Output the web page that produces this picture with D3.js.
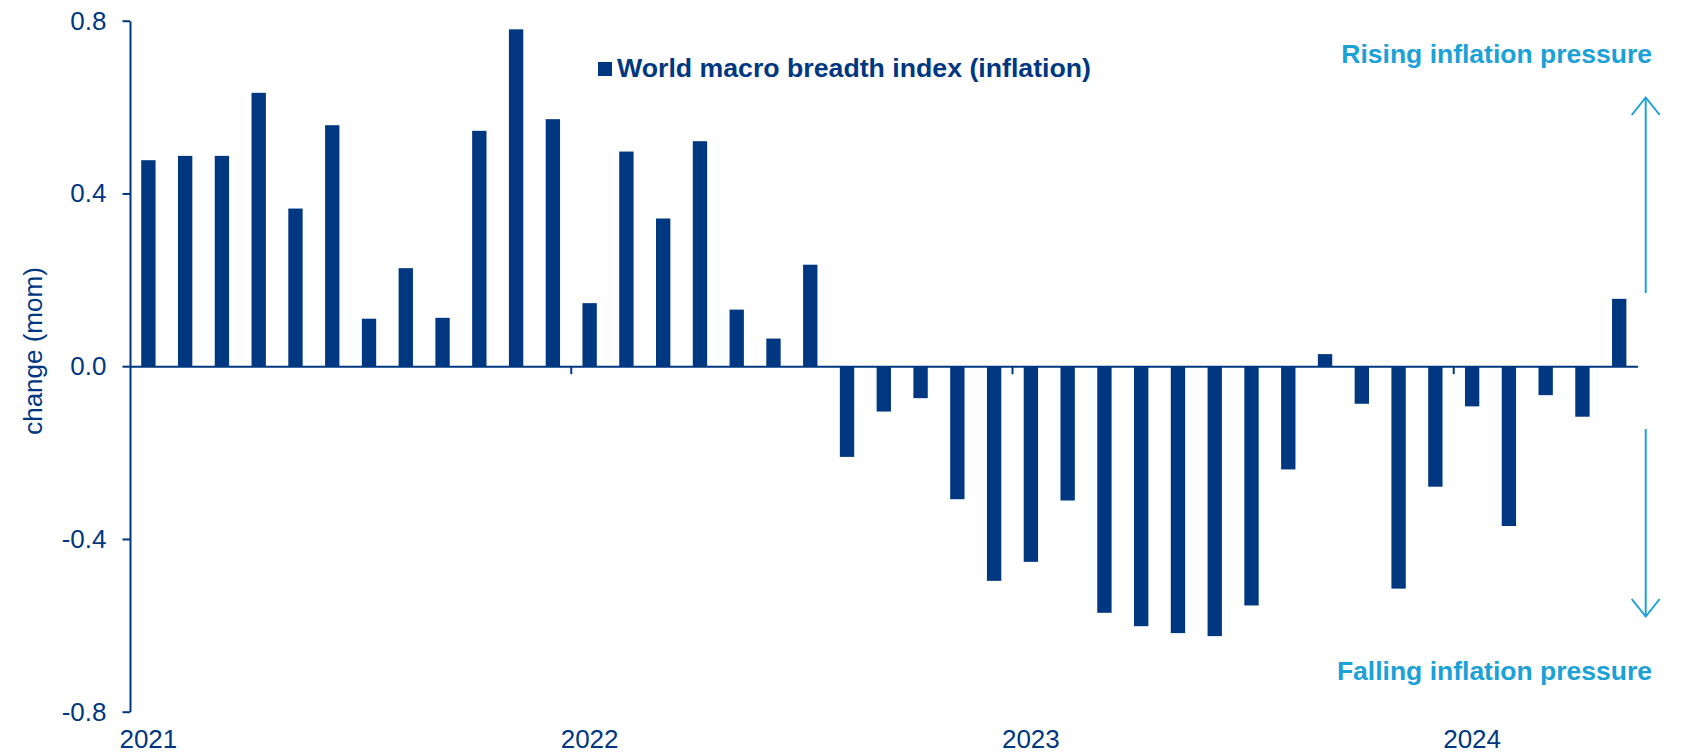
<!DOCTYPE html>
<html>
<head>
<meta charset="utf-8">
<script src="https://cdn.jsdelivr.net/npm/d3@7"></script>
<style>
  html, body { margin: 0; padding: 0; background: #ffffff; }
  svg { display: block; }
  text { font-family: "Liberation Sans", Arial, sans-serif; }
</style>
</head>
<body>
<svg id="chart" width="1681" height="754"></svg>
<script>
// Monthly observations, Jan 2021 – May 2024
const months = [
  "2021-01","2021-02","2021-03","2021-04","2021-05","2021-06","2021-07","2021-08","2021-09","2021-10","2021-11","2021-12",
  "2022-01","2022-02","2022-03","2022-04","2022-05","2022-06","2022-07","2022-08","2022-09","2022-10","2022-11","2022-12",
  "2023-01","2023-02","2023-03","2023-04","2023-05","2023-06","2023-07","2023-08","2023-09","2023-10","2023-11","2023-12",
  "2024-01","2024-02","2024-03","2024-04","2024-05"
];

// World macro breadth index (inflation), month-on-month change
const breadthChange = [
  0.477, 0.487, 0.487, 0.633, 0.365, 0.558, 0.110, 0.227, 0.112, 0.545, 0.780, 0.572,
  0.146, 0.497, 0.342, 0.521, 0.131, 0.064, 0.235, -0.210, -0.105, -0.074, -0.308, -0.497,
  -0.453, -0.311, -0.571, -0.602, -0.618, -0.625, -0.554, -0.239, 0.028, -0.087, -0.515, -0.279,
  -0.093, -0.370, -0.067, -0.117, 0.156
];

const yTicks = [-0.8, -0.4, 0.0, 0.4, 0.8];
const yearStarts = ["2021-01", "2022-01", "2023-01", "2024-01"];
const yearLabels = ["2021", "2022", "2023", "2024"];

const seriesName = "World macro breadth index (inflation)";
const yTitle = "change (mom)";
const upNote = "Rising inflation pressure";
const downNote = "Falling inflation pressure";

const NAVY = "#003781";
const SKY = "#1ba1d6";

const svg = d3.select("#chart");

const x = d3.scaleBand()
  .domain(months)
  .range([130, 1637.6])
  .paddingInner(0.61)
  .paddingOuter(0.305);

const y = d3.scaleLinear()
  .domain([-0.8, 0.8])
  .range([711.7, 20.7]);

// Bars
svg.append("g")
  .selectAll("rect")
  .data(months.map((m, i) => ({ m, v: breadthChange[i] })))
  .join("rect")
  .attr("x", d => x(d.m))
  .attr("width", x.bandwidth())
  .attr("y", d => y(Math.max(0, d.v)))
  .attr("height", d => Math.abs(y(d.v) - y(0)))
  .attr("fill", NAVY);

// Y axis
const yAxis = svg.append("g")
  .attr("transform", "translate(130,0)")
  .call(d3.axisLeft(y)
    .tickValues(yTicks)
    .tickFormat(d => d.toFixed(1))
    .tickSize(7.5)
    .tickSizeOuter(0)
    .tickPadding(16));
yAxis.select(".domain").attr("stroke", NAVY).attr("stroke-width", 2);
yAxis.selectAll(".tick line").attr("stroke", NAVY).attr("stroke-width", 2);
yAxis.selectAll(".tick text")
  .attr("fill", NAVY)
  .style("font-size", "26px");

// Zero line with year ticks
const xAxis = svg.append("g")
  .attr("transform", `translate(0,${y(0)})`)
  .call(d3.axisBottom(x)
    .tickValues(yearStarts.slice(1))
    .tickSize(8)
    .tickSizeOuter(0)
    .tickFormat(() => ""));
xAxis.select(".domain").attr("stroke", NAVY).attr("stroke-width", 2);
xAxis.selectAll(".tick")
  .attr("transform", d => `translate(${x(d) - x.step() * x.paddingOuter()},0)`);
xAxis.selectAll(".tick line").attr("stroke", NAVY).attr("stroke-width", 2);

// Year labels along the bottom
svg.append("g")
  .selectAll("text")
  .data(yearStarts)
  .join("text")
  .attr("x", d => x(d) + x.bandwidth() / 2)
  .attr("y", 748)
  .attr("text-anchor", "middle")
  .attr("fill", NAVY)
  .style("font-size", "26px")
  .text((d, i) => yearLabels[i]);

// Y axis title
svg.append("text")
  .attr("transform", "translate(42,351) rotate(-90)")
  .attr("text-anchor", "middle")
  .attr("fill", NAVY)
  .style("font-size", "26px")
  .text(yTitle);

// Legend
const legend = svg.append("g");
legend.append("rect")
  .attr("x", 598).attr("y", 62)
  .attr("width", 14).attr("height", 14)
  .attr("fill", NAVY);
legend.append("text")
  .attr("x", 617).attr("y", 77)
  .attr("fill", NAVY)
  .style("font-size", "26.7px")
  .style("font-weight", "bold")
  .text(seriesName);

// Direction notes and arrows
svg.append("text")
  .attr("x", 1652).attr("y", 63)
  .attr("text-anchor", "end")
  .attr("fill", SKY)
  .style("font-size", "26.5px")
  .style("font-weight", "bold")
  .text(upNote);

svg.append("text")
  .attr("x", 1652).attr("y", 680)
  .attr("text-anchor", "end")
  .attr("fill", SKY)
  .style("font-size", "26.5px")
  .style("font-weight", "bold")
  .text(downNote);

const ax = 1645.7;
const arrows = svg.append("g")
  .attr("stroke", SKY)
  .attr("stroke-width", 2)
  .attr("fill", "none");
arrows.append("line").attr("x1", ax).attr("x2", ax).attr("y1", 293).attr("y2", 98);
arrows.append("path").attr("d", `M${ax - 14},115 L${ax},97.5 L${ax + 14},115`);
arrows.append("line").attr("x1", ax).attr("x2", ax).attr("y1", 429).attr("y2", 616);
arrows.append("path").attr("d", `M${ax - 14},599 L${ax},616.5 L${ax + 14},599`);
</script>
</body>
</html>
